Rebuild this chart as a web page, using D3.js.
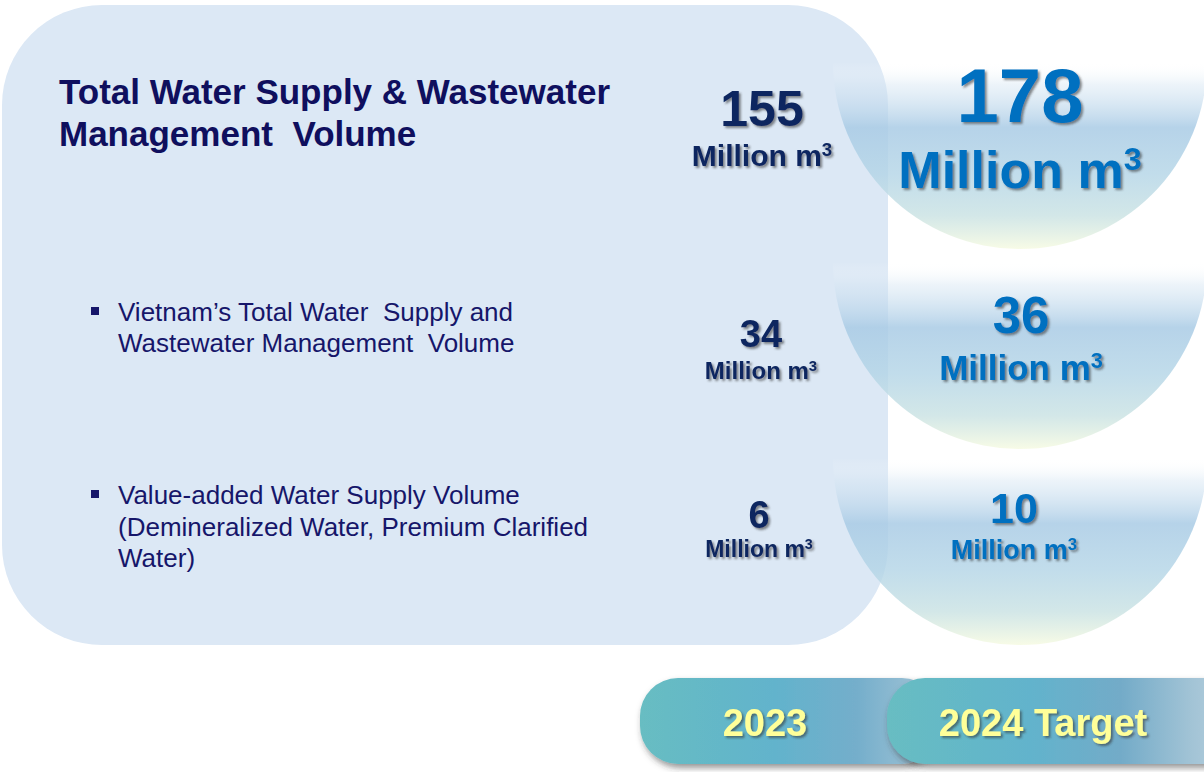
<!DOCTYPE html>
<html>
<head>
<meta charset="utf-8">
<script src="https://cdn.jsdelivr.net/npm/d3@7"></script>
<style>
  body { margin: 0; background: #fff; }
  svg { display: block; font-family: "Liberation Sans", Arial, sans-serif; }
  text { white-space: pre; }
</style>
</head>
<body>
<div id="chart"></div>
<script>
// Data
var categories = ["total", "vietnam", "valueAdded"];
var rowLabels = [
  ["Total Water Supply & Wastewater", "Management  Volume"],
  ["Vietnam\u2019s Total Water  Supply and", "Wastewater Management  Volume"],
  ["Value-added Water Supply Volume", "(Demineralized Water, Premium Clarified", "Water)"]
];
var years = ["2023", "2024 Target"];
var values2023 = [155, 34, 6];
var values2024 = [178, 36, 10];
var unitLabel = "Million m";
var unitSup = "3";

// Chart params
var svgWidth = 1204;
var svgHeight = 772;

var svg = d3.select("#chart")
  .append("svg")
  .attr("width", svgWidth)
  .attr("height", svgHeight);

var defs = svg.append("defs");

// bowl gradient (transparent -> blue -> pale yellow)
var bowlGrad = defs.append("linearGradient")
  .attr("id", "bowlGrad")
  .attr("x1", 0).attr("y1", 0).attr("x2", 0).attr("y2", 1);
[
  [0, "#ffffff", 0],
  [0.12, "#d6e6f3", 0.45],
  [0.35, "#a9cbe5", 0.85],
  [0.6, "#b2d4e6", 0.8],
  [0.82, "#cbe3e4", 0.85],
  [1, "#f7fbe5", 0.95]
].forEach(function(s) {
  bowlGrad.append("stop")
    .attr("offset", s[0])
    .attr("stop-color", s[1])
    .attr("stop-opacity", s[2]);
});

// pill gradients
var pillGrad = defs.append("linearGradient")
  .attr("id", "pillGrad")
  .attr("x1", 0).attr("y1", 0).attr("x2", 1).attr("y2", 0);
[[0, "#67bdc2"], [0.45, "#62b3cc"], [0.72, "#74aecb"], [1, "#a9c7d8"]].forEach(function(s) {
  pillGrad.append("stop").attr("offset", s[0]).attr("stop-color", s[1]);
});

var pillGrad2 = defs.append("linearGradient")
  .attr("id", "pillGrad2")
  .attr("x1", 0).attr("y1", 0).attr("x2", 1).attr("y2", 0);
[[0, "#67bdc2"], [0.4, "#62b3cc"], [0.65, "#73abc8"], [0.85, "#a3c4d6"], [1, "#bcd3e1"]].forEach(function(s) {
  pillGrad2.append("stop").attr("offset", s[0]).attr("stop-color", s[1]);
});

// shadows
defs.append("filter").attr("id", "txtShadow")
  .attr("x", "-10%").attr("y", "-10%").attr("width", "130%").attr("height", "140%")
  .append("feDropShadow")
  .attr("dx", 2).attr("dy", 2).attr("stdDeviation", 1.2)
  .attr("flood-color", "#333").attr("flood-opacity", 0.55);

defs.append("filter").attr("id", "pillShadow")
  .attr("x", "-10%").attr("y", "-20%").attr("width", "130%").attr("height", "150%")
  .append("feDropShadow")
  .attr("dx", 2).attr("dy", 4).attr("stdDeviation", 3)
  .attr("flood-color", "#333").attr("flood-opacity", 0.5);

// Scales
var yRow = d3.scaleOrdinal().domain(categories).range([62, 262, 458]);
var xYear = d3.scaleOrdinal().domain(years).range([762, 1020]);

// Left panel
svg.append("rect")
  .attr("x", 2).attr("y", 5)
  .attr("width", 886).attr("height", 640)
  .attr("rx", 100).attr("ry", 100)
  .attr("fill", "#dce8f5");

// Bowls for the target column
var bowlR = 187;
var arc = d3.arc()
  .innerRadius(0)
  .outerRadius(bowlR)
  .startAngle(Math.PI / 2)
  .endAngle(3 * Math.PI / 2);

svg.selectAll(".bowl")
  .data(categories)
  .enter()
  .append("path")
  .attr("class", "bowl")
  .attr("transform", d => `translate(${xYear("2024 Target")}, ${yRow(d)})`)
  .attr("d", arc)
  .attr("fill", "url(#bowlGrad)");

// Row labels
var labelStyle = [
  { x: 59, y0: 104, dy: 42, size: 35, weight: "bold", fill: "#0f0f5e", bullet: false },
  { x: 118, y0: 321, dy: 31, size: 26, weight: "normal", fill: "#16166a", bullet: true },
  { x: 118, y0: 504, dy: 31.5, size: 26, weight: "normal", fill: "#16166a", bullet: true }
];

rowLabels.forEach(function(lines, i) {
  var st = labelStyle[i];
  var t = svg.append("text")
    .attr("font-size", st.size)
    .attr("font-weight", st.weight)
    .attr("fill", st.fill);
  lines.forEach(function(line, j) {
    t.append("tspan")
      .attr("x", st.x)
      .attr("y", st.y0 + j * st.dy)
      .text(line);
  });
  if (st.bullet) {
    svg.append("rect")
      .attr("x", 91).attr("y", st.y0 - 14)
      .attr("width", 8).attr("height", 8)
      .attr("fill", st.fill);
  }
});

// Value labels: [valueBaselineOffset, valueSize, unitBaselineOffset, unitSize, xShift]
var valueStyle = {
  "2023": [[64, 50, 104, 30, 0], [85, 38, 117, 24, -1], [70, 38, 99, 23, -3]],
  "2024 Target": [[60, 76, 126, 52, 0], [71, 51, 118, 35, 1], [65, 43, 101, 27, -6]]
};
var valueColor = { "2023": "#112860", "2024 Target": "#0070c0" };

[values2023, values2024].forEach(function(vals, k) {
  var yr = years[k];
  var g = svg.append("g").attr("filter", "url(#txtShadow)");
  vals.forEach(function(v, i) {
    var st = valueStyle[yr][i];
    var cy = yRow(categories[i]);
    var cx = xYear(yr) + st[4];
    g.append("text")
      .attr("x", cx)
      .attr("y", cy + st[0])
      .attr("text-anchor", "middle")
      .attr("font-size", st[1])
      .attr("font-weight", "bold")
      .attr("fill", valueColor[yr])
      .text(v);
    var u = g.append("text")
      .attr("x", cx)
      .attr("y", cy + st[2])
      .attr("text-anchor", "middle")
      .attr("font-size", st[3])
      .attr("font-weight", "bold")
      .attr("fill", valueColor[yr]);
    u.append("tspan").text(unitLabel);
    u.append("tspan")
      .attr("font-size", st[3] * 0.62)
      .attr("dy", -st[3] * 0.34)
      .text(unitSup);
  });
});

// Year pills at the bottom
var pills = [
  { x: 640, w: 300, fill: "url(#pillGrad)" },
  { x: 887, w: 360, fill: "url(#pillGrad2)" }
];
pills.forEach(function(p) {
  svg.append("rect")
    .attr("x", p.x).attr("y", 678)
    .attr("width", p.w).attr("height", 86)
    .attr("rx", 38).attr("ry", 38)
    .attr("fill", p.fill)
    .attr("filter", "url(#pillShadow)");
});

var yearX = d3.scaleOrdinal().domain(years).range([765, 1043]);
svg.append("g")
  .attr("filter", "url(#txtShadow)")
  .selectAll("text")
  .data(years)
  .enter()
  .append("text")
  .attr("x", d => yearX(d))
  .attr("y", 736)
  .attr("text-anchor", "middle")
  .attr("font-size", 38)
  .attr("font-weight", "bold")
  .attr("fill", "#ffff99")
  .text(d => d);
</script>
</body>
</html>
